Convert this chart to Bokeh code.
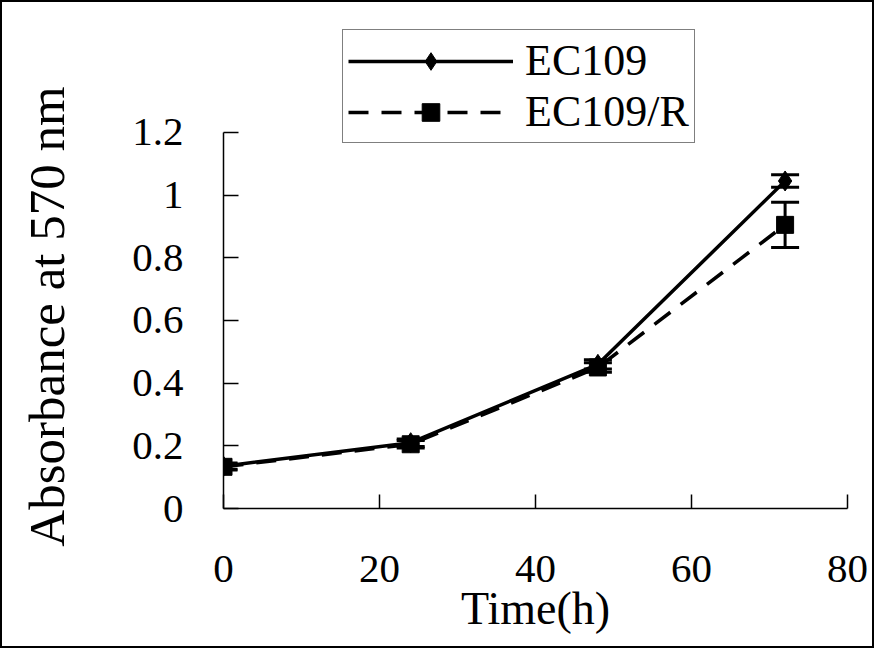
import numpy as np
from bokeh.plotting import figure
from bokeh.models import (ColumnDataSource, Whisker, TeeHead, Legend, LegendItem,
                          FixedTicker, Range1d)
from bokeh.embed import file_html
from bokeh.resources import INLINE

# ---- data ----
time_h = [0, 24, 48, 72]
ec109 = [0.135, 0.21, 0.46, 1.045]
ec109_err = [0.01, 0.012, 0.015, 0.02]
ec109r = [0.133, 0.205, 0.45, 0.905]
ec109r_err = [0.01, 0.012, 0.015, 0.072]
x_ticks = [0, 20, 40, 60, 80]
y_ticks = [0, 0.2, 0.4, 0.6, 0.8, 1.0, 1.2]
y_tick_labels = ["0", "0.2", "0.4", "0.6", "0.8", "1", "1.2"]
y_axis_max = 1.2
x_label = "Time(h)"
y_label = "Absorbance at 570 nm"

FONT = "Liberation Serif"

s1 = ColumnDataSource(dict(x=time_h, y=ec109,
                           lo=[v - e for v, e in zip(ec109, ec109_err)],
                           hi=[v + e for v, e in zip(ec109, ec109_err)]))
s2 = ColumnDataSource(dict(x=time_h, y=ec109r,
                           lo=[v - e for v, e in zip(ec109r, ec109r_err)],
                           hi=[v + e for v, e in zip(ec109r, ec109r_err)]))

# frame: top 22px, bottom 504px (picture coords); 1.2 sits at 131px
frame_top, frame_bottom, y12_px = 22, 504, 131
y_end = y_axis_max * (frame_bottom - frame_top) / (frame_bottom - y12_px)

p = figure(width=874, height=648, output_backend="svg", toolbar_location=None,
           x_range=Range1d(0, 80), y_range=Range1d(0, y_end),
           min_border_left=221, min_border_right=29,
           min_border_top=20, min_border_bottom=142)
p.styles = {"border": "2px solid black"}
p.outline_line_color = None
p.xgrid.visible = False
p.ygrid.visible = False

l1 = p.line("x", "y", source=s1, line_color="black", line_width=3.5)
l2 = p.line("x", "y", source=s2, line_color="black", line_width=3.5, line_dash="20 13")

for src in (s1, s2):
    w = Whisker(source=src, base="x", upper="hi", lower="lo", dimension="height",
                line_color="black", line_width=3,
                upper_head=TeeHead(size=28, line_width=3, line_color="black"),
                lower_head=TeeHead(size=28, line_width=3, line_color="black"))
    p.add_layout(w)

m1 = p.scatter("x", "y", source=s1, marker="diamond", size=20,
               fill_color="black", line_color="black")
m2 = p.scatter("x", "y", source=s2, marker="square", size=17,
               fill_color="black", line_color="black")

legend = Legend(items=[LegendItem(label="EC109", renderers=[l1, m1]),
                       LegendItem(label="EC109/R", renderers=[l2, m2])],
                location=(119, 365), padding=5, spacing=0,
                glyph_width=165, glyph_height=44, label_standoff=12,
                label_text_font=FONT, label_text_font_size="44px",
                label_text_color="black",
                border_line_color="black", border_line_width=1.5,
                background_fill_color="white", background_fill_alpha=1.0,
                margin=0)
p.add_layout(legend)

# axes
xa = p.xaxis[0]
xa.ticker = FixedTicker(ticks=x_ticks)
xa.minor_tick_line_color = None
xa.major_tick_in = 14
xa.major_tick_out = 0
xa.major_tick_line_width = 1.5
xa.major_tick_line_color = "black"
xa.axis_line_width = 1.5
xa.axis_line_color = "black"
xa.major_label_standoff = 47
xa.major_label_text_font = FONT
xa.major_label_text_font_size = "41px"
xa.major_label_text_color = "black"
xa.axis_label = x_label
xa.axis_label_text_font = FONT
xa.axis_label_text_font_size = "46px"
xa.axis_label_text_font_style = "normal"
xa.axis_label_text_color = "black"
xa.axis_label_standoff = -2

ya = p.yaxis[0]
ya.ticker = FixedTicker(ticks=y_ticks)
ya.bounds = (0, y_axis_max)
ya.major_label_overrides = {t: s for t, s in zip(y_ticks, y_tick_labels)}
ya.minor_tick_line_color = None
ya.major_tick_in = 15
ya.major_tick_out = 0
ya.major_tick_line_width = 1.5
ya.major_tick_line_color = "black"
ya.axis_line_width = 1.5
ya.axis_line_color = "black"
ya.major_label_standoff = 40
ya.major_label_text_font = FONT
ya.major_label_text_font_size = "41px"
ya.major_label_text_color = "black"
# trailing no-break spaces shift the centred label down to the bounded axis' centre
ya.axis_label = y_label + "\u00a0" * 8
ya.axis_label_text_font = FONT
ya.axis_label_text_font_size = "51px"
ya.axis_label_text_font_style = "normal"
ya.axis_label_text_color = "black"
ya.axis_label_standoff = 54

open("out.html", "w").write(file_html(p, INLINE))
